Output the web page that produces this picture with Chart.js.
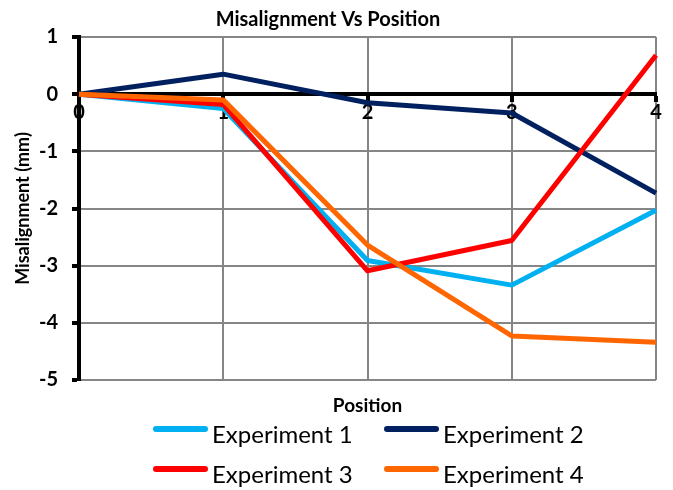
<!DOCTYPE html>
<html><head><meta charset="utf-8">
<script src="https://cdn.jsdelivr.net/npm/chart.js@4/dist/chart.umd.min.js"></script>
<style>html,body{margin:0;padding:0;background:#fff;}</style>
</head><body>
<canvas id="c" width="673" height="490"></canvas>
<script>
const positions = [0, 1, 2, 3, 4];
const experiment1 = [0, -0.25, -2.91, -3.34, -2.03];
const experiment2 = [0, 0.35, -0.15, -0.33, -1.73];
const experiment3 = [0, -0.18, -3.09, -2.56, 0.68];
const experiment4 = [0, -0.10, -2.64, -4.23, -4.34];
const seriesNames = ['Experiment 1', 'Experiment 2', 'Experiment 3', 'Experiment 4'];
const seriesColors = ['#00B0F0', '#002060', '#FF0000', '#FF6600'];
const drawOrder = [2, 3, 1, 0];
const chartTitle = 'Misalignment Vs Position';
const xTitle = 'Position';
const yTitle = 'Misalignment (mm)';
const yMin = -5, yMax = 1, xMin = 0, xMax = 4;

const FONT = 'Lato';
const allSeries = [experiment1, experiment2, experiment3, experiment4];

const datasets = allSeries.map((vals, i) => ({
  label: seriesNames[i],
  data: positions.map((p, j) => ({x: p, y: vals[j]})),
  borderColor: seriesColors[i],
  backgroundColor: seriesColors[i],
  borderWidth: 5,
  pointRadius: 0,
  pointHoverRadius: 0,
  tension: 0,
  fill: false,
  clip: false,
  order: drawOrder[i],
  borderJoinStyle: 'round'
}));

const customLegend = {
  id: 'customLegend',
  afterDraw(chart) {
    const ctx = chart.ctx;
    const colX = [153, 384];
    const rowY = [429, 469];
    ctx.save();
    chart.data.datasets.forEach((ds, i) => {
      const x = colX[i % 2];
      const y = rowY[Math.floor(i / 2)];
      ctx.strokeStyle = ds.borderColor;
      ctx.lineWidth = 6;
      ctx.lineCap = 'round';
      ctx.beginPath();
      ctx.moveTo(x + 3, y);
      ctx.lineTo(x + 52, y);
      ctx.stroke();
      ctx.fillStyle = '#000';
      ctx.font = '24px ' + FONT;
      ctx.textBaseline = 'alphabetic';
      ctx.textAlign = 'left';
      ctx.fillText(ds.label, x + 59, y + 14);
    });
    ctx.restore();
  }
};

new Chart(document.getElementById('c'), {
  type: 'line',
  data: { datasets },
  plugins: [customLegend],
  options: {
    responsive: false,
    animation: false,
    devicePixelRatio: 1,
    layout: { padding: { left: 0, right: 17, top: 0, bottom: 73 } },
    plugins: {
      legend: { display: false },
      tooltip: { enabled: false },
      title: {
        display: true,
        text: chartTitle,
        color: '#000',
        font: { family: FONT, size: 20, weight: 'bold' },
        padding: { top: 8, bottom: 5 }
      }
    },
    scales: {
      x: {
        type: 'linear',
        min: xMin, max: xMax,
        position: { y: 0 },
        ticks: { stepSize: 1, color: '#000', font: { family: FONT, size: 20, weight: 'bold' }, padding: 0 },
        grid: {
          color: c => (c.tick && c.tick.value === 0) ? 'rgba(0,0,0,0)' : '#868686',
          lineWidth: 2,
          tickColor: '#000',
          tickLength: 6,
          tickWidth: 4
        },
        border: { color: '#000', width: 4 }
      },
      x2: {
        type: 'linear',
        min: xMin, max: xMax,
        position: 'bottom',
        ticks: { display: false },
        grid: { display: false },
        border: { display: false },
        title: { display: true, text: xTitle, color: '#000', font: { family: FONT, size: 19, weight: 'bold' }, padding: 0 },
        afterFit: s => { s.height = 37; }
      },
      y: {
        type: 'linear',
        min: yMin, max: yMax,
        position: 'left',
        ticks: { stepSize: 1, color: '#000', font: { family: FONT, size: 20, weight: 'bold' }, padding: 14 },
        grid: {
          color: c => (c.tick && c.tick.value === 0) ? '#000' : '#868686',
          lineWidth: c => (c.tick && c.tick.value === 0) ? 4 : 2,
          tickColor: '#000',
          tickLength: 7,
          tickWidth: 4
        },
        border: { color: '#000', width: 4 },
        title: { display: true, text: yTitle, color: '#000', font: { family: FONT, size: 18, weight: 'bold' }, padding: { top: 12, bottom: 0 } },
        afterFit: s => { s.width = 79; }
      }
    }
  }
});
</script>
</body></html>
